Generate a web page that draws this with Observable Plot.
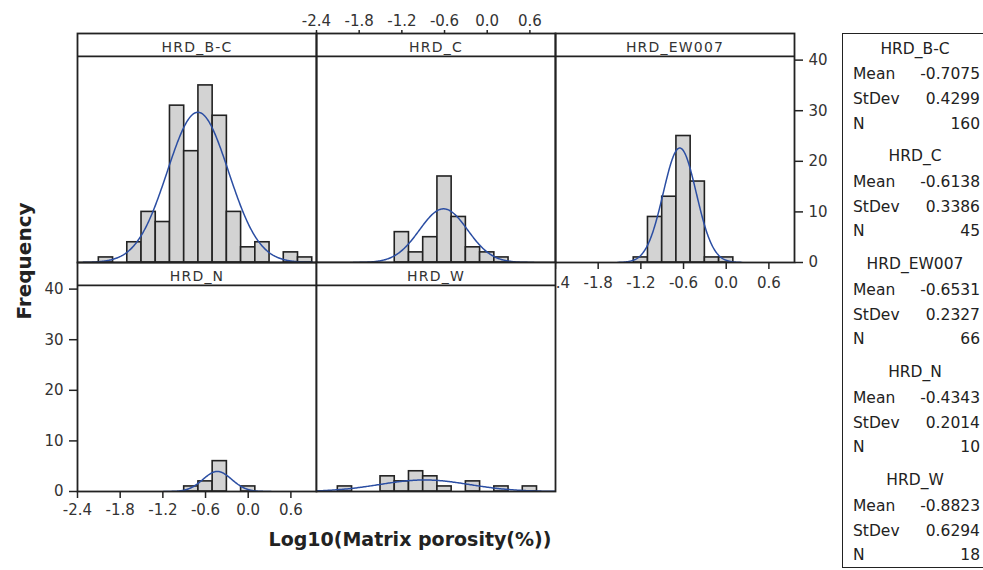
<!DOCTYPE html>
<html><head><meta charset="utf-8">
<script src="https://cdn.jsdelivr.net/npm/d3@7"></script>
<script src="https://cdn.jsdelivr.net/npm/@observablehq/plot@0.6"></script>
<style>
html,body{margin:0;padding:0;background:#fff;overflow:hidden}
#wrap{position:relative;width:983px;height:570px;font-family:"DejaVu Sans",sans-serif;color:#222;overflow:hidden}
#wrap svg{position:absolute}
.t{position:absolute;white-space:nowrap;line-height:1}
</style></head><body><div id="wrap"></div>
<script>
// ---- data ----
const groups = ["HRD_B-C", "HRD_C", "HRD_EW007", "HRD_N", "HRD_W"];
const binEdges = [-2.1, -1.9, -1.7, -1.5, -1.3, -1.1, -0.9, -0.7, -0.5, -0.3, -0.1, 0.1, 0.3, 0.5, 0.7, 0.9];
const countsBC    = [1, 0, 4, 10, 8, 31, 22, 35, 29, 10, 3, 4, 0, 2, 1];
const countsC     = [0, 0, 0, 0, 6, 2, 5, 17, 9, 3, 2, 1, 0, 0, 0];
const countsEW007 = [0, 0, 0, 0, 1, 9, 13, 25, 16, 1, 1, 0, 0, 0, 0];
const countsN     = [0, 0, 0, 0, 0, 0, 1, 2, 6, 0, 1, 0, 0, 0, 0];
const countsW     = [1, 0, 0, 3, 2, 4, 3, 1, 0, 2, 0, 1, 0, 1, 0];
const means  = [-0.7075, -0.6138, -0.6531, -0.4343, -0.8823];
const stdevs = [0.4299, 0.3386, 0.2327, 0.2014, 0.6294];
const ns     = [160, 45, 66, 10, 18];
const xTicks = [-2.4, -1.8, -1.2, -0.6, 0.0, 0.6];
const yTicks = [0, 10, 20, 30, 40];
const counts = [countsBC, countsC, countsEW007, countsN, countsW];

// ---- layout ----
const wrap = document.getElementById("wrap");
const PW = 239, PH = 229, ML = 45, MR = 45, MT = 30, MB = 40;
const yTop = 45.26, stripY = 40.75, binWidth = 0.2;
const panelLeft = [77, 316, 555, 77, 316];
const panelTop = [33, 33, 33, 262, 262];
const fmtX = d => d.toFixed(1);
const ink = "#222";

function panel(i, axes, whiteBg) {
  const bins = counts[i].map((c, k) => ({x1: binEdges[k], x2: binEdges[k + 1], y0: 0, y: c})).filter(d => d.y > 0);
  const mu = means[i], sd = stdevs[i], n = ns[i];
  const lo = mu - 3.75 * sd, hi = mu + 3.75 * sd;
  const curve = d3.range(0, 301).map(j => {
    const x = lo + (hi - lo) * j / 300;
    return {x, y: n * binWidth * Math.exp(-0.5 * ((x - mu) / sd) ** 2) / (sd * Math.sqrt(2 * Math.PI))};
  });
  const marks = [];
  if (whiteBg) marks.push(Plot.frame({fill: "white", stroke: null}));
  marks.push(Plot.rect(bins, {x1: "x1", x2: "x2", y1: "y0", y2: "y", fill: "#d3d3d3", stroke: ink, strokeWidth: 1.6}));
  marks.push(Plot.line(curve, {x: "x", y: "y", stroke: "#2b4ea3", strokeWidth: 1.5, clip: true}));
  marks.push(Plot.ruleY([stripY], {stroke: ink, strokeWidth: 1.8}));
  marks.push(Plot.text([groups[i]], {frameAnchor: "top", lineAnchor: "middle", dy: 14, fontSize: 14, fill: "#333"}));
  marks.push(Plot.frame({stroke: ink, strokeWidth: 1.8}));
  const tk = {label: null, strokeWidth: 1.5, fontSize: 15, fill: "#333"};
  if (axes.top) marks.push(Plot.axisX({anchor: "top", ticks: xTicks, tickSize: 4, tickPadding: 4, tickFormat: fmtX, ...tk}));
  if (axes.bottom) marks.push(Plot.axisX({anchor: "bottom", ticks: xTicks, tickSize: 7, tickPadding: axes.bpad, tickFormat: fmtX, ...tk}));
  if (axes.left) marks.push(Plot.axisY({anchor: "left", ticks: yTicks, tickSize: 8, tickPadding: 6, ...tk}));
  if (axes.right) marks.push(Plot.axisY({anchor: "right", ticks: yTicks, tickSize: 8, tickPadding: 6, ...tk}));
  const hasX = axes.top || axes.bottom, hasY = axes.left || axes.right;
  const svg = Plot.plot({
    width: PW + ML + MR, height: PH + MT + MB,
    marginLeft: ML, marginRight: MR, marginTop: MT, marginBottom: MB,
    x: Object.assign({domain: [-2.4, 0.96]}, hasX ? {} : {axis: null}),
    y: Object.assign({domain: [0, yTop]}, hasY ? {} : {axis: null}),
    style: {background: "transparent", overflow: "visible", fontFamily: "DejaVu Sans", fontSize: "15px", color: ink},
    marks
  });
  svg.style.left = (panelLeft[i] - ML) + "px";
  svg.style.top = (panelTop[i] - MT) + "px";
  svg.querySelectorAll('g[aria-label="text"] text').forEach(t => t.setAttribute("letter-spacing", "1.2"));
  wrap.appendChild(svg);
}

panel(0, {}, false);
panel(1, {top: true}, false);
panel(2, {right: true, bottom: true, bpad: 8}, false);
panel(3, {left: true, bottom: true, bpad: 6}, false);
panel(4, {}, true);

// ---- axis titles ----
function addText(txt, css) {
  const d = document.createElement("div");
  d.className = "t";
  d.textContent = txt;
  Object.assign(d.style, css);
  wrap.appendChild(d);
  return d;
}
addText("Frequency", {left: "24px", top: "261px", fontSize: "20px", fontWeight: "bold", transform: "translate(-50%,-50%) rotate(-90deg)"});
addText("Log10(Matrix porosity(%))", {left: "410px", top: "530px", fontSize: "19px", fontWeight: "bold", transform: "translateX(-50%)"});

// ---- stats legend ----
const box = document.createElement("div");
Object.assign(box.style, {position: "absolute", left: "842px", top: "33px", width: "160px", height: "535px", border: "1.8px solid " + ink, boxSizing: "border-box"});
wrap.appendChild(box);
const fs = 15.5, half = 7.5;
groups.forEach((g, i) => {
  const y0 = 49 + i * 107.9;
  addText(g, {left: "915px", top: (y0 - half) + "px", fontSize: fs + "px", transform: "translateX(-50%)"});
  const rows = [["Mean", means[i].toFixed(4)], ["StDev", stdevs[i].toFixed(4)], ["N", String(ns[i])]];
  const offs = [25.5, 50.5, 75];
  rows.forEach((r, k) => {
    addText(r[0], {left: "853px", top: (y0 + offs[k] - half) + "px", fontSize: fs + "px"});
    addText(r[1], {right: "3px", top: (y0 + offs[k] - half) + "px", fontSize: fs + "px"});
  });
});
</script></body></html>
